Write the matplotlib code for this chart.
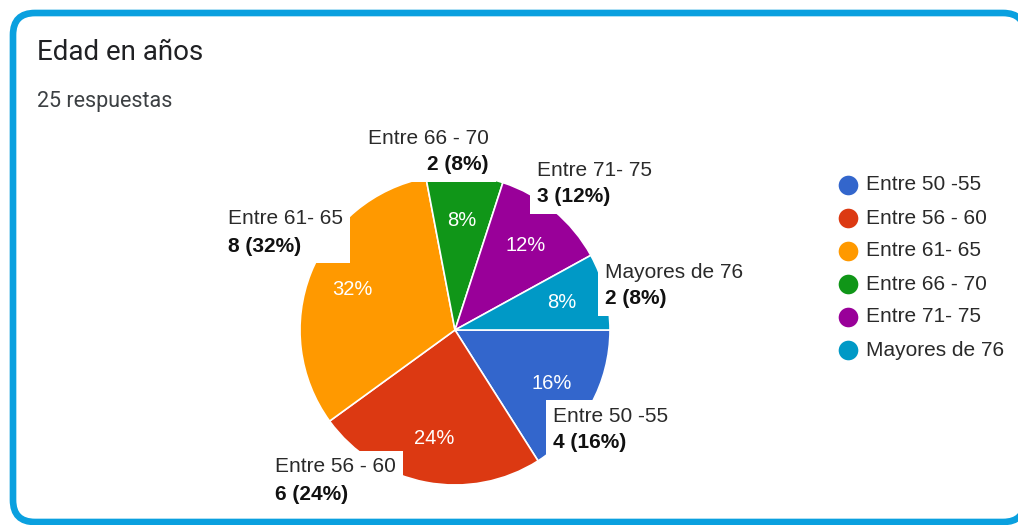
import matplotlib
matplotlib.use("Agg")
import matplotlib.pyplot as plt
from matplotlib.patches import FancyBboxPatch, Rectangle
from matplotlib.transforms import Bbox

# ---- data ----
categories = ["Entre 50 -55", "Entre 56 - 60", "Entre 61- 65",
              "Entre 66 - 70", "Entre 71- 75", "Mayores de 76"]
counts = [4, 6, 8, 2, 3, 2]
colors = ["#3366CC", "#DC3912", "#FF9900", "#109618", "#990099", "#0099C6"]
title = "Edad en años"
subtitle_word = "respuestas"

# ---- layout (pixel coordinates, y downward) ----
pie_center = (455, 330)
pie_radius = 155
# outside label anchors: (x, y of first line, horizontal alignment)
label_pos = [(553, 416, "left"), (275, 467, "left"), (228, 219, "left"),
             (489, 138, "right"), (537, 170, "left"), (605, 272, "left")]
line_gap = 27
legend_x, legend_y0, legend_dy = 848, 185, 33

plt.rcParams["font.family"] = ["Liberation Sans", "DejaVu Sans"]

fig = plt.figure(figsize=(10.18, 5.25), dpi=100)
fig.patch.set_facecolor("white")
ax = fig.add_axes([0, 0, 1, 1])

total = sum(counts)

wedges, texts, autotexts = ax.pie(
    counts, colors=colors, startangle=0, counterclock=True,
    center=pie_center, radius=pie_radius,
    wedgeprops=dict(edgecolor="white", linewidth=1.2),
    autopct=lambda p: f"{p:.0f}%", pctdistance=0.71,
    textprops=dict(color="white", fontsize=14.5))
for w in wedges:
    w.set_zorder(2)
for t in autotexts:
    t.set_zorder(6)

ax.set_xlim(0, 1018)
ax.set_ylim(525, 0)
ax.set_aspect("auto")
ax.axis("off")

# border card
card = FancyBboxPatch((13, 13), 1012, 509,
                      boxstyle="round,pad=0,rounding_size=22",
                      ec="#0AA0DF", fc="white", lw=4.8, zorder=0, clip_on=False)
ax.add_patch(card)

# title and subtitle
ax.text(37, 52, title, fontsize=20, color="#202124", va="center", ha="left",
        family=["Roboto", "DejaVu Sans"])
ax.text(37, 102, f"{total} {subtitle_word}", fontsize=15.5, color="#3c4043",
        va="center", ha="left", family=["Roboto", "DejaVu Sans"])

# outside labels
pairs = []
for cat, c, (x, y, ha) in zip(categories, counts, label_pos):
    pct = round(100 * c / total)
    t1 = ax.text(x, y, cat, ha=ha, va="center", fontsize=15,
                 color="#2a2a2a", zorder=7)
    t2 = ax.text(x, y + line_gap, f"{c} ({pct}%)", ha=ha, va="center",
                 fontsize=15, color="#111111", weight="bold", zorder=7)
    pairs.append((t1, t2))

fig.canvas.draw()
renderer = fig.canvas.get_renderer()
inv = ax.transData.inverted()
pad = 7
for t1, t2 in pairs:
    bb = Bbox.union([t1.get_window_extent(renderer), t2.get_window_extent(renderer)])
    (x0, y0), (x1, y1) = inv.transform([(bb.x0 - pad, bb.y0 - pad),
                                        (bb.x1 + pad, bb.y1 + pad)])
    ax.add_patch(Rectangle((min(x0, x1), min(y0, y1)), abs(x1 - x0), abs(y1 - y0),
                           fc="white", ec="none", zorder=4))

# legend
for i, (cat, col) in enumerate(zip(categories, colors)):
    yy = legend_y0 + legend_dy * i
    ax.scatter([legend_x], [yy], s=200, color=col, zorder=5, linewidths=0)
    ax.text(legend_x + 18, yy, cat, fontsize=15, color="#2a2a2a",
            va="center", ha="left", zorder=5)

fig.savefig("out.png", dpi=100, facecolor="white")
